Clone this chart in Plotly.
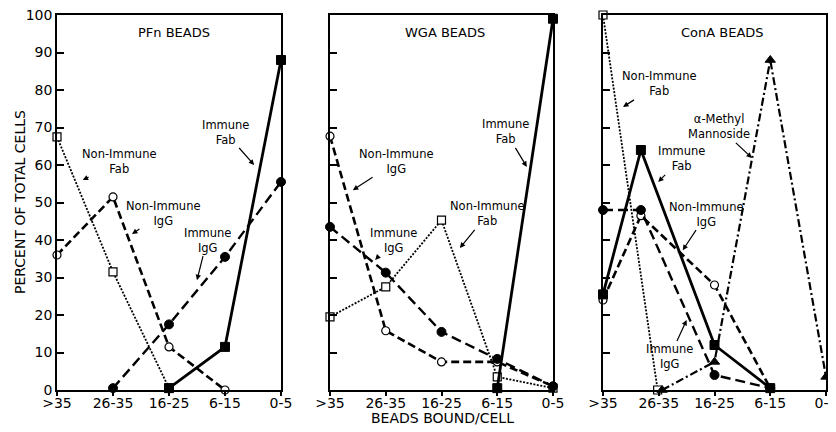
import plotly.graph_objects as go

# ---------------- data ----------------
categories = [">35", "26-35", "16-25", "6-15", "0-5"]
cat_pos = [0, 1, 2, 3, 4]
y_ticks = [0, 10, 20, 30, 40, 50, 60, 70, 80, 90, 100]

# PFn beads
pfn_nonimm_fab_x = [0, 1, 2]
pfn_nonimm_fab_y = [67.5, 31.5, 0.5]
pfn_nonimm_igg_x = [0, 1, 2, 3]
pfn_nonimm_igg_y = [36, 51.5, 11.5, 0]
pfn_imm_igg_x = [1, 2, 3, 4]
pfn_imm_igg_y = [0.5, 17.5, 35.5, 55.5]
pfn_imm_fab_x = [2, 3, 4]
pfn_imm_fab_y = [0.5, 11.5, 88]

# WGA beads
wga_nonimm_igg_x = [0, 1, 2, 3, 4]
wga_nonimm_igg_y = [67.7, 15.8, 7.5, 7.5, 1]
wga_imm_igg_x = [0, 1, 2, 3, 4]
wga_imm_igg_y = [43.5, 31.3, 15.5, 8.3, 1]
wga_nonimm_fab_x = [0, 1, 2, 3, 4]
wga_nonimm_fab_y = [19.5, 27.5, 45.3, 3.5, 0.5]
wga_imm_fab_x = [3, 4]
wga_imm_fab_y = [0.5, 99]

# ConA beads (points drawn at their plotted positions along the category axis)
cona_nonimm_fab_x = [0, 0.98]
cona_nonimm_fab_y = [100, 0]
cona_imm_fab_x = [0, 0.68, 2, 3]
cona_imm_fab_y = [25.5, 64, 12, 0.5]
cona_imm_igg_x = [0, 0.68, 2, 3]
cona_imm_igg_y = [48, 48, 4, 0.5]
cona_nonimm_igg_x = [0, 0.68, 2, 3]
cona_nonimm_igg_y = [24, 46.5, 28, 0.5]
cona_mannoside_x = [1.06, 2, 3, 4]
cona_mannoside_y = [0, 7.5, 88, 3.5]

# ---------------- styles ----------------
BLACK = "black"
FONT = "DejaVu Sans"

styles = {
    "imm_fab": dict(line=dict(color=BLACK, width=2.8, dash="solid"),
                    marker=dict(symbol="square", size=9, color=BLACK,
                                line=dict(color=BLACK, width=1))),
    "imm_igg": dict(line=dict(color=BLACK, width=2.4, dash="10px,5px"),
                    marker=dict(symbol="circle", size=9, color=BLACK,
                                line=dict(color=BLACK, width=1))),
    "nonimm_igg": dict(line=dict(color=BLACK, width=2.6, dash="8px,4px"),
                       marker=dict(symbol="circle", size=8, color="white",
                                   line=dict(color=BLACK, width=1.2))),
    "nonimm_fab": dict(line=dict(color=BLACK, width=1.8, dash="2px,1.5px"),
                       marker=dict(symbol="square", size=8, color="white",
                                   line=dict(color=BLACK, width=1.2))),
    "mannoside": dict(line=dict(color=BLACK, width=2.2, dash="8px,3px,2px,3px"),
                      marker=dict(symbol="triangle-up", size=9, color=BLACK,
                                  line=dict(color=BLACK, width=1))),
}

fig = go.Figure()

def add(x, y, style, ax):
    s = styles[style]
    fig.add_trace(go.Scatter(
        x=x, y=y, mode="lines+markers", line=s["line"], marker=s["marker"],
        xaxis="x" + ("" if ax == 1 else str(ax)),
        yaxis="y" + ("" if ax == 1 else str(ax)),
        cliponaxis=False, showlegend=False, hoverinfo="skip"))

# PFn
add(pfn_nonimm_fab_x, pfn_nonimm_fab_y, "nonimm_fab", 1)
add(pfn_nonimm_igg_x, pfn_nonimm_igg_y, "nonimm_igg", 1)
add(pfn_imm_igg_x, pfn_imm_igg_y, "imm_igg", 1)
add(pfn_imm_fab_x, pfn_imm_fab_y, "imm_fab", 1)
# WGA
add(wga_nonimm_fab_x, wga_nonimm_fab_y, "nonimm_fab", 2)
add(wga_nonimm_igg_x, wga_nonimm_igg_y, "nonimm_igg", 2)
add(wga_imm_igg_x, wga_imm_igg_y, "imm_igg", 2)
add(wga_imm_fab_x, wga_imm_fab_y, "imm_fab", 2)
# ConA
add(cona_nonimm_fab_x, cona_nonimm_fab_y, "nonimm_fab", 3)
add(cona_mannoside_x, cona_mannoside_y, "mannoside", 3)
add(cona_nonimm_igg_x, cona_nonimm_igg_y, "nonimm_igg", 3)
add(cona_imm_igg_x, cona_imm_igg_y, "imm_igg", 3)
add(cona_imm_fab_x, cona_imm_fab_y, "imm_fab", 3)

# The page body adds an 8px margin, so the figure is offset accordingly
# (reference pixel p -> figure pixel p - 8).
OFF = 8
W, H = 828, 424
PLOT_L, PLOT_R, PLOT_T, PLOT_B = 57, 826, 15, 390   # in reference pixels
L = PLOT_L - OFF
R = W - (PLOT_R - OFF)
T = PLOT_T - OFF
B = H - (PLOT_B - OFF)
pw = PLOT_R - PLOT_L
ph = PLOT_B - PLOT_T

def px(p):
    return (p - PLOT_L) / pw
def py(p):
    return (PLOT_B - p) / ph

domains = [[px(57), px(281)], [px(330), px(553)], [px(603), px(826)]]

axis_common = dict(showline=True, linecolor=BLACK, linewidth=1.5, mirror=True,
                   showgrid=False, zeroline=False, automargin=False,
                   ticklabeloverflow="allow",
                   tickfont=dict(family=FONT, size=14, color=BLACK))

layout = dict(template="none", width=W, height=H,
              margin=dict(l=L, r=R, t=T, b=B, autoexpand=False),
              plot_bgcolor="white", paper_bgcolor="white",
              font=dict(family=FONT, color=BLACK))

for i in range(3):
    sfx = "" if i == 0 else str(i + 1)
    layout["xaxis" + sfx] = dict(axis_common, domain=domains[i], range=[0, 4],
                                 tickvals=cat_pos, ticktext=categories,
                                 ticks="outside", ticklen=4, tickwidth=1.5,
                                 ticklabelstandoff=-5,
                                 tickcolor=BLACK, anchor="y" + sfx)
    layout["yaxis" + sfx] = dict(axis_common, domain=[0, 1], range=[0, 100],
                                 tickvals=y_ticks, ticks="inside", ticklen=7,
                                 tickwidth=1.5, tickcolor=BLACK,
                                 showticklabels=(i == 0), anchor="x" + sfx)

fig.update_layout(**layout)

# titles
anns = [
    dict(text="PFn BEADS", x=px(174), y=py(32)),
    dict(text="WGA BEADS", x=px(445), y=py(32)),
    dict(text="ConA BEADS", x=px(722), y=py(32)),
]
for a in anns:
    fig.add_annotation(xref="paper", yref="paper", showarrow=False,
                       xanchor="center", yanchor="middle",
                       font=dict(family=FONT, size=13, color=BLACK), **a)

fig.add_annotation(xref="paper", yref="paper", x=px(20), y=py(202),
                   xanchor="center", yanchor="middle",
                   text="PERCENT OF TOTAL CELLS", textangle=-90, showarrow=False,
                   font=dict(family=FONT, size=14, color=BLACK))
fig.add_annotation(xref="paper", yref="paper", x=px(442), y=py(418),
                   xanchor="center", yanchor="middle",
                   text="BEADS BOUND/CELL", showarrow=False,
                   font=dict(family=FONT, size=14, color=BLACK))

# curve labels: (axis, text, head x, head y, ax, ay)
labels = [
    (1, "Non-Immune<br>Fab", 0.46, 56, 37, -19),
    (1, "Non-Immune<br>IgG", 1.34, 41.6, 31, -21),
    (1, "Immune<br>IgG", 2.5, 29.3, 10, -40),
    (1, "Immune<br>Fab", 3.52, 60, -29, -33),
    (2, "Immune<br>Fab", 3.53, 59.5, -21, -35),
    (2, "Non-Immune<br>IgG", 0.41, 53.3, 44, -29),
    (2, "Non-Immune<br>Fab", 2.33, 37.9, 28, -34),
    (2, "Immune<br>IgG", 0.81, 34.7, 18, -19),
    (3, "Non-Immune<br>Fab", 0.36, 75.5, 36, -23),
    (3, "α-Methyl<br>Mannoside", 2.67, 61.9, -33, -31),
    (3, "Immune<br>Fab", 0.99, 55.5, 23, -23),
    (3, "Non-Immune<br>IgG", 1.43, 37.3, 24, -36),
    (3, "Immune<br>IgG", 1.5, 18.7, -17, 37),
]
for axn, txt, hx, hy, ax, ay in labels:
    sfx = "" if axn == 1 else str(axn)
    fig.add_annotation(xref="x" + sfx, yref="y" + sfx, x=hx, y=hy, text=txt,
                       showarrow=True, ax=ax, ay=ay, arrowhead=2, arrowsize=0.9,
                       arrowwidth=1.2, arrowcolor=BLACK,
                       font=dict(family=FONT, size=11.5, color=BLACK),
                       bgcolor="rgba(255,255,255,0)")

fig.write_html("out.html")
